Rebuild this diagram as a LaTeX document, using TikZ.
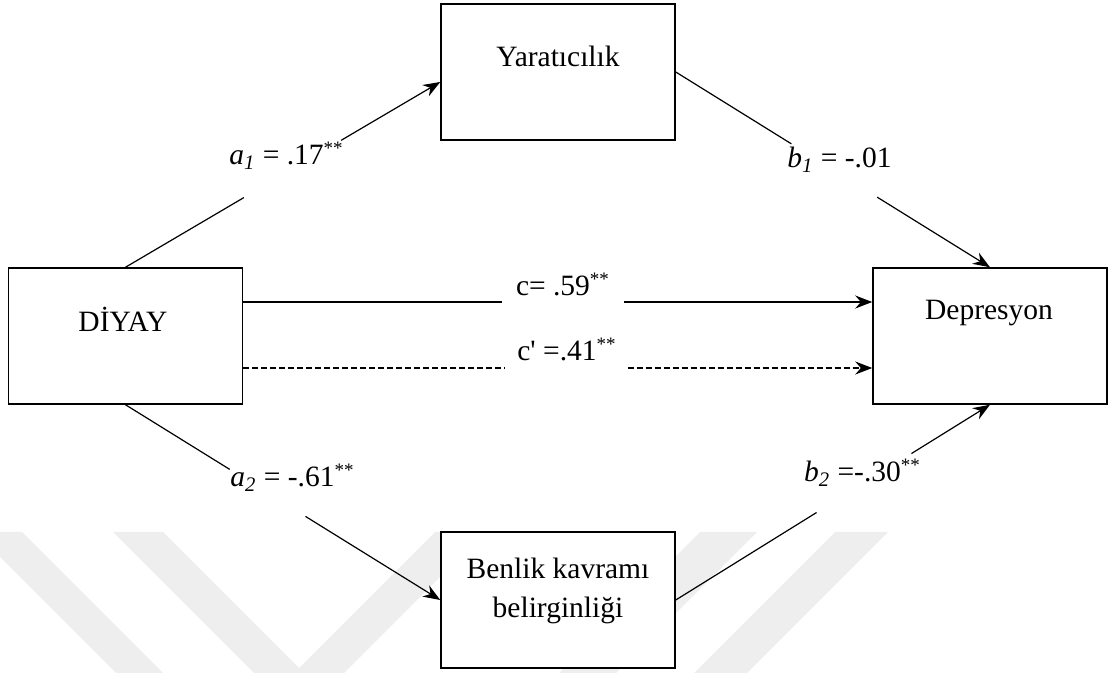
\documentclass[tikz,border=0pt]{standalone}
\usepackage{fontspec}
\setmainfont{Liberation Serif}
\usetikzlibrary{arrows.meta,calc}
\definecolor{wmark}{RGB}{238,238,238}
\newcommand\sigst{\raisebox{0.34em}{\fontsize{9.5}{9.5}\selectfont **}}
\begin{document}
\begin{tikzpicture}[x=0.5pt,y=-0.5pt,
  box/.style={draw=black, line width=0.75pt, fill=white, minimum width=117pt, minimum height=68pt, inner sep=0pt},
  txt/.style={font=\fontsize{14.75}{19.5}\selectfont, inner sep=0pt},
  conn/.style={line width=0.6pt},
  arr/.style={conn, -{Stealth[length=8.5pt,width=6.5pt,inset=2.8pt]}},
  dsh/.style={dash pattern=on 3pt off 1.5pt}]
\useasboundingbox (0,0) rectangle (1115,673);
% watermark
\begin{scope}
\clip (0,0) rectangle (1115,673);
\fill[wmark] (-25,532) -- (22,532) -- (163,673) -- (116,673) -- cycle;
\fill[wmark] (113,532) -- (163,532) -- (299,668) -- (435,532) -- (485,532) -- (344,673) -- (254,673) -- cycle;
\fill[wmark] (700,532) -- (757,532) -- (616,673) -- (559,673) -- cycle;
\fill[wmark] (835,532) -- (888,532) -- (747,673) -- (694,673) -- cycle;
\end{scope}
% boxes
\node[box] (Y) at (558,72) {};
\node[box] (D) at (125.5,336) {};
\node[box] (Dep) at (990,336) {};
\node[box] (B) at (558,600) {};
\node[txt, anchor=base] (Yt) at (558,67) {Yaratıcılık};
\node[txt, anchor=base] (Dt) at (123,332) {DİYAY};
\node[txt, anchor=base] (Dept) at (989,320) {Depresyon};
\node[txt, align=center] (Bt) at (558,591) {Benlik kavramı\\belirginliği};
% connector end points
\coordinate (a1s) at (D.north);
\coordinate (a1e) at ($(Y.west)+(0,10)$);
\coordinate (b1s) at (Y.east);
\coordinate (b1e) at (Dep.north);
\coordinate (a2s) at (D.south);
\coordinate (a2e) at (B.west);
\coordinate (b2s) at (B.east);
\coordinate (b2e) at (Dep.south);
\coordinate (cs) at ($(D.east)+(0,-34)$);
\coordinate (ce) at ($(Dep.west)+(0,-34)$);
\coordinate (cps) at ($(D.east)+(0,32)$);
\coordinate (cpe) at ($(Dep.west)+(0,32)$);
% connectors
\draw[conn] (a1s) -- ($(a1s)!0.376!(a1e)$);
\draw[arr] ($(a1s)!0.685!(a1e)$) -- (a1e);
\draw[conn] (b1s) -- ($(b1s)!0.368!(b1e)$);
\draw[arr] ($(b1s)!0.641!(b1e)$) -- (b1e);
\draw[conn] (a2s) -- ($(a2s)!0.331!(a2e)$);
\draw[arr] ($(a2s)!0.572!(a2e)$) -- (a2e);
\draw[conn] (b2s) -- ($(b2s)!0.448!(b2e)$);
\draw[arr] ($(b2s)!0.75!(b2e)$) -- (b2e);
\draw[conn] (cs) -- ($(cs)!0.411!(ce)$);
\draw[arr] ($(cs)!0.605!(ce)$) -- (ce);
\draw[conn,dsh] (cps) -- ($(cps)!0.416!(cpe)$);
\draw[arr,dsh] ($(cps)!0.611!(cpe)$) -- (cpe);
% labels
\node[txt, anchor=base] (la1) at (286,165) {\textit{a\textsubscript{1}} = .17\sigst};
\node[txt, anchor=base] (lb1) at (839.5,168) {\textit{b\textsubscript{1}} = -.01};
\node[txt, anchor=base] (lc) at (562.5,296) {c= .59\sigst};
\node[txt, anchor=base] (lcp) at (566.5,361) {c\textquotesingle{} =.41\sigst};
\node[txt, anchor=base] (la2) at (292,487) {\textit{a\textsubscript{2}} = -.61\sigst};
\node[txt, anchor=base] (lb2) at (862,482) {\textit{b\textsubscript{2}} =-.30\sigst};
\end{tikzpicture}
\end{document}
